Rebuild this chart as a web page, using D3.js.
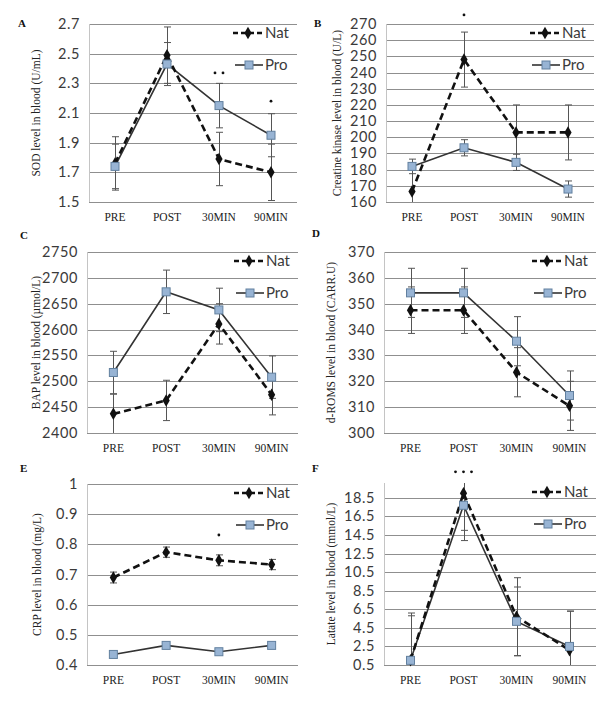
<!DOCTYPE html>
<html>
<head>
<meta charset="utf-8">
<script src="https://cdn.jsdelivr.net/npm/d3@7"></script>
<style>
body { margin: 0; background: #fff; }
.tick-label { font-family: Lato, "Open Sans", sans-serif; font-size: 14.5px; fill: #3a3a3a; letter-spacing: 0.6px; }
.cat-label { font-family: "Liberation Serif", serif; font-size: 11.5px; fill: #222; }
.y-title { font-family: "Liberation Serif", serif; font-size: 11.5px; fill: #222; }
.panel-letter { font-family: "Liberation Serif", serif; font-size: 11px; font-weight: bold; fill: #111; }
.legend-text { font-family: Lato, "Open Sans", sans-serif; font-size: 15px; fill: #3a3a3a; }
</style>
</head>
<body>
<script>
var w = 616, h = 705;

var categories = ["PRE", "POST", "30MIN", "90MIN"];

// A - SOD
var sodNat = [1.76, 2.49, 1.79, 1.70];
var sodNatErr = [0.18, 0.19, 0.18, 0.19];
var sodPro = [1.74, 2.43, 2.15, 1.95];
var sodProErr = [0.15, 0.145, 0.15, 0.145];
var sodTicks = [1.5, 1.7, 1.9, 2.1, 2.3, 2.5, 2.7];

// B - creatine kinase
var ckNat = [166.5, 248, 203, 203];
var ckNatErr = [17, 17, 17, 17];
var ckPro = [182, 193.5, 184.5, 168];
var ckProErr = [4.5, 5, 5, 5];
var ckTicks = [160, 170, 180, 190, 200, 210, 220, 230, 240, 250, 260, 270];

// C - BAP
var bapNat = [2437, 2463, 2611, 2474];
var bapNatErr = [38, 39, 39, 39];
var bapPro = [2517, 2673, 2638, 2508];
var bapProErr = [41, 42, 42, 41];
var bapTicks = [2400, 2450, 2500, 2550, 2600, 2650, 2700, 2750];

// D - d-ROMS
var romsNat = [347.5, 347.5, 323.5, 310.5];
var romsNatErr = [9, 9, 9.5, 9.5];
var romsPro = [354.2, 354.2, 335.5, 314.5];
var romsProErr = [9.5, 9.5, 9.5, 9.5];
var romsTicks = [300, 310, 320, 330, 340, 350, 360, 370];

// E - CRP
var crpNat = [0.69, 0.774, 0.747, 0.733];
var crpNatErr = [0.018, 0.017, 0.018, 0.017];
var crpPro = [0.435, 0.465, 0.444, 0.465];
var crpProErr = [0, 0, 0, 0];
var crpTicks = [0.4, 0.5, 0.6, 0.7, 0.8, 0.9, 1];
var crpTickLabels = ["0.4", "0.5", "0.6", "0.7", "0.8", "0.9", "1"];

// F - lactate
var latNat = [1.0, 19.0, 5.7, 2.1];
var latNatErr = [5.1, 4.0, 4.2, 4.2];
var latPro = [1.0, 17.7, 5.2, 2.5];
var latProErr = [4.8, 3.8, 3.7, 3.8];
var latTicks = [0.5, 2.5, 4.5, 6.5, 8.5, 10.5, 12.5, 14.5, 16.5, 18.5];

// significance dots: [category, value, count]
var sodSig = [["30MIN", 2.37, 2], ["90MIN", 2.18, 1]];
var ckSig = [["POST", 275.6, 1]];
var crpSig = [["30MIN", 0.831, 1]];
var latSig = [["POST", 21.3, 3]];

var panels = [
  {letter: "A", lx: 18, ly: 27, box: [89, 24, 297, 202], domain: [1.5, 2.7], ticks: sodTicks,
   title: "SOD level in blood (U/mL)", tx: 40,
   nat: sodNat, natErr: sodNatErr, pro: sodPro, proErr: sodProErr, sig: sodSig},
  {letter: "B", lx: 314, ly: 27, box: [386, 24, 594, 202], domain: [160, 270], ticks: ckTicks,
   title: "Creatine kinase level in blood (U/L)", tx: 341,
   nat: ckNat, natErr: ckNatErr, pro: ckPro, proErr: ckProErr, sig: ckSig},
  {letter: "C", lx: 20, ly: 239, box: [87, 252, 298, 433], domain: [2400, 2750], ticks: bapTicks,
   title: "BAP level in blood (\u00b5mol/L)", tx: 40,
   nat: bapNat, natErr: bapNatErr, pro: bapPro, proErr: bapProErr, sig: []},
  {letter: "D", lx: 312, ly: 237, box: [384, 252, 596, 433], domain: [300, 370], ticks: romsTicks,
   title: "d-ROMS level in blood (CARR.U)", tx: 335,
   nat: romsNat, natErr: romsNatErr, pro: romsPro, proErr: romsProErr, sig: []},
  {letter: "E", lx: 20, ly: 472, box: [87, 484, 298, 665], domain: [0.4, 1], ticks: crpTicks, tickLabels: crpTickLabels,
   title: "CRP level in blood (mg/L)", tx: 41,
   nat: crpNat, natErr: crpNatErr, pro: crpPro, proErr: crpProErr, sig: crpSig},
  {letter: "F", lx: 312, ly: 472, box: [384, 483, 596, 665], domain: [0.5, 20.1], ticks: latTicks,
   title: "Latate level in blood (mmol/L)", tx: 335,
   nat: latNat, natErr: latNatErr, pro: latPro, proErr: latProErr, sig: latSig}
];

var svg = d3.select("body").append("svg")
  .attr("width", w)
  .attr("height", h);

var gridColor = "#8f8f8f";
var errColor = "#555";
var proLine = "#333";
var proFill = "#98b4d4";
var proStroke = "#62809f";

panels.forEach(function(p) {
  var g = svg.append("g");
  var left = p.box[0], top = p.box[1], right = p.box[2], bottom = p.box[3];

  var x = d3.scaleBand().domain(categories).range([left, right]);
  var y = d3.scaleLinear().domain(p.domain).range([bottom, top]);
  var cx = function(c) { return x(c) + x.bandwidth() / 2; };

  // gridlines
  g.selectAll("line.grid")
    .data(p.ticks)
    .enter().append("line")
    .attr("x1", left).attr("x2", right)
    .attr("y1", function(d) { return Math.round(y(d)) + 0.5; })
    .attr("y2", function(d) { return Math.round(y(d)) + 0.5; })
    .attr("stroke", gridColor)
    .attr("stroke-width", 1);

  g.append("line")
    .attr("x1", left + 0.5).attr("x2", left + 0.5)
    .attr("y1", top).attr("y2", bottom)
    .attr("stroke", "#c4c4c4");

  // tick labels
  g.selectAll("text.tick-label")
    .data(p.ticks)
    .enter().append("text")
    .attr("class", "tick-label")
    .attr("x", left - 9)
    .attr("y", function(d) { return y(d) + 5; })
    .attr("text-anchor", "end")
    .text(function(d, i) { return p.tickLabels ? p.tickLabels[i] : d; });

  // category labels
  g.selectAll("text.cat-label")
    .data(categories)
    .enter().append("text")
    .attr("class", "cat-label")
    .attr("x", cx)
    .attr("y", bottom + 19)
    .attr("text-anchor", "middle")
    .text(function(d) { return d; });

  // y title
  g.append("text")
    .attr("class", "y-title")
    .attr("transform", "translate(" + p.tx + "," + ((top + bottom) / 2) + ") rotate(-90)")
    .attr("text-anchor", "middle")
    .text(p.title);

  g.append("text")
    .attr("class", "panel-letter")
    .attr("x", p.lx).attr("y", p.ly)
    .text(p.letter);

  // error bars
  var clip = function(v) { return Math.max(p.domain[0], Math.min(p.domain[1], v)); };
  [[p.pro, p.proErr], [p.nat, p.natErr]].forEach(function(s) {
    var eg = g.append("g").attr("stroke", errColor).attr("stroke-width", 1);
    categories.forEach(function(c, i) {
      if (!s[1][i]) return;
      var hi = s[0][i] + s[1][i], lo = s[0][i] - s[1][i];
      var xx = Math.round(cx(c)) + 0.5;
      eg.append("line").attr("x1", xx).attr("x2", xx)
        .attr("y1", y(clip(hi))).attr("y2", y(clip(lo)));
      [hi, lo].forEach(function(v) {
        if (v > p.domain[1] || v < p.domain[0]) return;
        eg.append("line").attr("x1", xx - 3.5).attr("x2", xx + 3.5)
          .attr("y1", y(v)).attr("y2", y(v));
      });
    });
  });

  var line = d3.line()
    .x(function(d, i) { return cx(categories[i]); })
    .y(function(d) { return y(d); });

  g.append("path")
    .attr("d", line(p.pro))
    .attr("fill", "none")
    .attr("stroke", proLine)
    .attr("stroke-width", 1.6);

  g.append("path")
    .attr("d", line(p.nat))
    .attr("fill", "none")
    .attr("stroke", "#111")
    .attr("stroke-width", 2.6)
    .attr("stroke-dasharray", "7,4");

  var diamond = d3.symbol().type(d3.symbolDiamond).size(45);

  g.selectAll("path.nat-mark")
    .data(p.nat)
    .enter().append("path")
    .attr("d", diamond)
    .attr("transform", function(d, i) { return "translate(" + cx(categories[i]) + "," + y(d) + ")"; })
    .attr("fill", "#111");

  g.selectAll("rect.pro-mark")
    .data(p.pro)
    .enter().append("rect")
    .attr("x", function(d, i) { return cx(categories[i]) - 4; })
    .attr("y", function(d) { return y(d) - 4; })
    .attr("width", 8).attr("height", 8)
    .attr("fill", proFill)
    .attr("stroke", proStroke)
    .attr("stroke-width", 1);

  // significance dots
  p.sig.forEach(function(s) {
    for (var k = 0; k < s[2]; k++) {
      g.append("circle")
        .attr("cx", cx(s[0]) + (k - (s[2] - 1) / 2) * 8)
        .attr("cy", y(s[1]))
        .attr("r", 1.4)
        .attr("fill", "#111");
    }
  });

  // legend
  var lg = g.append("g").attr("transform", "translate(" + (right - 64) + "," + top + ")");
  lg.append("line").attr("x1", 0).attr("x2", 30).attr("y1", 9).attr("y2", 9)
    .attr("stroke", "#111").attr("stroke-width", 2.6).attr("stroke-dasharray", "5,3");
  lg.append("path").attr("d", diamond).attr("transform", "translate(15,9)").attr("fill", "#111");
  lg.append("text").attr("class", "legend-text").attr("x", 32).attr("y", 14).text("Nat");
  lg.append("line").attr("x1", 2).attr("x2", 30).attr("y1", 41).attr("y2", 41)
    .attr("stroke", proLine).attr("stroke-width", 1.6);
  lg.append("rect").attr("x", 12).attr("y", 37).attr("width", 8).attr("height", 8)
    .attr("fill", proFill).attr("stroke", proStroke);
  lg.append("text").attr("class", "legend-text").attr("x", 32).attr("y", 46).text("Pro");
});
</script>
</body>
</html>
